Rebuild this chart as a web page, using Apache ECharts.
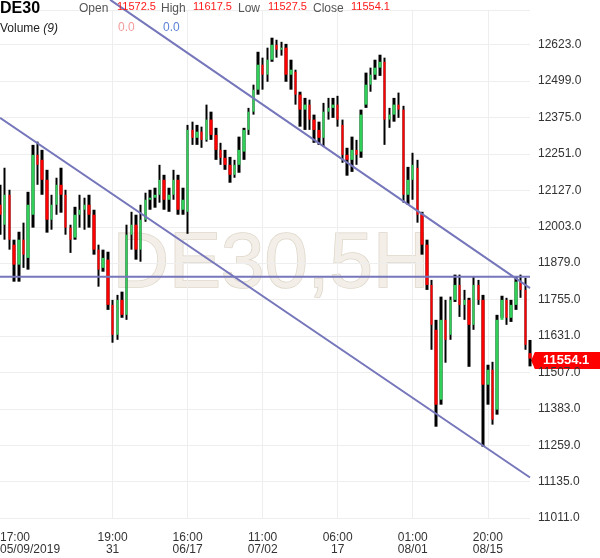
<!DOCTYPE html>
<html><head><meta charset="utf-8">
<script src="https://cdn.jsdelivr.net/npm/echarts@6/dist/echarts.min.js"></script>
<style>html,body{margin:0;padding:0;background:#fff}#c{width:600px;height:558px}</style>
</head><body><div id="c"></div>
<script>
// ---- data (5H candles, aggregated) ----
const opens = [12078,12010,12112,11942,11874,11959,11897,12044,12248,12231,
12163,12027,12078,12146,12112,12000,11966,12044,12061,12078,
12044,11925,11863,11891,11737,11635,11754,11703,11976,12010,
11925,12027,12095,12102,12112,12163,12095,12112,12163,12061,
12054,12333,12306,12327,12299,12368,12316,12265,12238,12214,
12180,12214,12259,12333,12395,12470,12555,12521,12572,12623,
12606,12613,12521,12531,12453,12402,12419,12368,12333,12306,
12395,12408,12419,12350,12248,12231,12265,12259,12419,12487,
12521,12545,12565,12368,12385,12419,12402,12112,12163,12204,
12044,11942,11805,11652,11414,11686,11635,11754,11805,11737,
11754,11669,11805,11754,11465,11516,11380,11686,11754,11693,
11737,11816,11788,11572.5];
const closes = [12044,12112,11959,11874,11959,11908,12078,12248,12214,12163,
12027,12078,12146,12112,12000,11959,12044,12061,12078,12044,
11925,11857,11897,11737,11635,11754,11703,11976,12010,11925,
12027,12095,12102,12112,12163,12095,12112,12163,12061,12095,
12333,12306,12327,12299,12368,12316,12265,12238,12214,12180,
12214,12265,12333,12395,12470,12555,12521,12572,12623,12606,
12613,12521,12538,12453,12402,12419,12368,12333,12306,12395,
12408,12419,12368,12248,12231,12265,12248,12385,12487,12521,
12545,12565,12368,12385,12419,12402,12112,12163,12214,12044,
11942,11805,11669,11397,11686,11618,11754,11805,11737,11754,
11669,11805,11754,11465,11516,11346,11686,11754,11693,11737,
11816,11788,11601,11554.1];
const highs = [12146,12204,12129,11959,11986,12017,12122,12282,12293,12265,
12197,12112,12170,12204,12129,12010,12071,12112,12102,12112,
12061,11942,11925,11918,11754,11771,11782,12010,12054,12044,
12078,12119,12129,12136,12214,12180,12136,12197,12180,12136,
12350,12361,12350,12344,12419,12395,12340,12289,12265,12241,
12231,12310,12340,12408,12487,12599,12579,12613,12647,12640,
12633,12626,12572,12538,12463,12442,12436,12385,12361,12425,
12442,12442,12449,12368,12272,12310,12299,12402,12528,12545,
12572,12589,12579,12408,12442,12460,12415,12207,12255,12231,
12054,11959,11822,11686,11765,11754,11765,11840,11840,11788,
11761,11833,11822,11771,11533,11543,11703,11768,11761,11754,
11833,11840,11829,11617.5];
const lows = [11976,11959,11925,11816,11816,11863,11857,12000,12146,12112,
11983,11993,12044,12051,11976,11914,11959,12000,11993,12000,
11908,11799,11850,11720,11608,11618,11693,11686,11925,11891,
11884,12020,12061,12068,12085,12061,12054,12095,12044,12044,
11979,12282,12282,12272,12293,12299,12231,12214,12197,12153,
12170,12187,12231,12316,12385,12453,12470,12497,12565,12579,
12586,12497,12470,12419,12344,12333,12333,12289,12282,12276,
12368,12374,12344,12221,12177,12190,12214,12238,12408,12463,
12504,12517,12282,12340,12361,12374,12085,12078,12095,12017,
11908,11788,11584,11322,11397,11540,11618,11747,11696,11686,
11526,11652,11737,11254,11397,11329,11363,11693,11669,11679,
11720,11761,11584,11527.5];
// x tick labels (category index -> text)
const tickIndex = [0, 24, 40, 56, 72, 88, 104];
const tickText = ['17:00\n05/09/2019','19:00\n31','16:00\n06/17','11:00\n07/02','06:00\n17','01:00\n08/01','20:00\n08/15'];
// y axis ticks
const yMin = 11011, yStep = 124, yMax = 12740;
// trend lines: [categoryIndex, value]
const upperLine = [[23.5, 12776], [113, 11794]];
const lowerLine = [[0, 12374], [113, 11149]];
const levelLine = [[0, 11833], [113, 11833]];
// header
const header = {symbol:'DE30', open:'11572.5', high:'11617.5', low:'11527.5', close:'11554.1'};

// ---- build ----
const N = opens.length;
const categories = opens.map((_, i) => String(i));
const wickData = opens.map((_, i) => [lows[i], highs[i], lows[i], highs[i]]);
const bodyData = opens.map((o, i) => [o, closes[i], Math.min(o, closes[i]), Math.max(o, closes[i])]);
const GREEN = '#2fcf5a', RED = '#ff0000', LINE = '#7676bb';
const FONT = 'Arial, "Liberation Sans", sans-serif';

const chart = echarts.init(document.getElementById('c'), null, {renderer: 'canvas'});
const lineSeries = (d) => ({type: 'line', xAxisIndex: 1, yAxisIndex: 0, data: d, symbol: 'none', clip: false, silent: true,
  lineStyle: {color: LINE, width: 2}, z: 5, animation: false});

chart.setOption({
  animation: false,
  grid: {left: 0, right: 70, top: 10.4, bottom: 40, containLabel: false, outerBoundsMode: 'none'},
  xAxis: [{
    type: 'category', data: categories, boundaryGap: false,
    axisLine: {show: false}, axisTick: {show: false},
    axisLabel: {
      interval: (idx) => tickIndex.includes(idx),
      formatter: (v, idx) => { const k = tickIndex.indexOf(Number(v)); return k >= 0 ? tickText[k] : ''; },
      color: '#333', fontSize: 12, fontFamily: FONT, lineHeight: 12, margin: 14,
      alignMinLabel: 'left', showMinLabel: true
    },
    splitLine: {show: true, interval: (idx) => idx > 0 && tickIndex.includes(idx), lineStyle: {color: '#eeeeee', width: 1}}
  }, {
    type: 'value', min: 0, max: N - 1, show: false
  }],
  yAxis: [{
    type: 'value', position: 'right', min: yMin, max: yMax, interval: yStep, scale: true,
    axisLine: {show: false}, axisTick: {show: false},
    axisLabel: {
      color: '#333', fontSize: 12, fontFamily: FONT, margin: 8,
      formatter: (v) => (Math.abs(((v - yMin) / yStep) - Math.round((v - yMin) / yStep)) < 1e-6 ? v.toFixed(1) : '')
    },
    splitLine: {lineStyle: {color: '#eeeeee', width: 1}}
  }],
  series: [
    {type: 'candlestick', name: 'wick', data: wickData, barWidth: 3, z: 3,
      itemStyle: {color: '#000', color0: '#000', borderColor: '#000', borderColor0: '#000', borderWidth: 0}},
    {type: 'candlestick', name: 'body', data: bodyData, barWidth: 3, z: 4,
      itemStyle: {color: GREEN, color0: RED, borderColor: GREEN, borderColor0: RED, borderWidth: 0}},
    lineSeries(upperLine), lineSeries(lowerLine), lineSeries(levelLine)
  ]
});

// price tag and header/watermark graphics
const lastClose = closes[N - 1];
const py = chart.convertToPixel({yAxisIndex: 0}, lastClose);
const px = chart.convertToPixel({xAxisIndex: 1}, N - 1);
const t = (x, y, text, fill, extra) => Object.assign({type: 'text', x: x, y: y, z: 20,
  style: Object.assign({text: text, fill: fill, font: '12px ' + FONT}, (extra || {}))});
chart.setOption({
  graphic: [
    {type: 'text', left: 112, top: 226, z: -10, silent: true,
      style: {text: 'DE30,5H', font: '78px ' + FONT, fill: '#f3efe8', stroke: '#ddd5c8', lineWidth: 1.5}},
    t(0, 1, header.symbol, '#000', {font: 'bold 16px ' + FONT}),
    t(79, 3, 'Open', '#555', {font: '12px ' + FONT}),
    t(117, 1, header.open, '#ff1a1a', {font: '11px ' + FONT}),
    t(161, 3, 'High', '#555', {font: '12px ' + FONT}),
    t(193, 1, header.high, '#ff1a1a', {font: '11px ' + FONT}),
    t(238, 3, 'Low', '#555', {font: '12px ' + FONT}),
    t(268, 1, header.low, '#ff1a1a', {font: '11px ' + FONT}),
    t(313, 3, 'Close', '#555', {font: '12px ' + FONT}),
    t(351, 1, header.close, '#ff1a1a', {font: '11px ' + FONT}),
    {type: 'text', x: 0, y: 23, z: 20, style: {rich: {a: {font: '12px ' + FONT, fill: '#222'}, b: {font: 'italic 12px ' + FONT, fill: '#222'}},
      text: '{a|Volume }{b|(9)}'}},
    t(118, 22, '0.0', '#f49a9a', {font: '12px ' + FONT}),
    t(163, 22, '0.0', '#5b82d6', {font: '12px ' + FONT}),
    {type: 'group', x: px + 1, y: py + 2, z: 30, children: [
      {type: 'polygon', shape: {points: [[0, 0], [4, -8.5], [8, -8.5], [8, 8.5], [4, 8.5]]}, style: {fill: '#ff0000'}},
      {type: 'rect', shape: {x: 3, y: -8.5, width: 80, height: 17, r: 3}, style: {fill: '#ff0000'}},
      {type: 'text', x: 12, y: 0, style: {text: lastClose.toFixed(1), fill: '#fff', font: 'bold 13px ' + FONT, verticalAlign: 'middle'}}
    ]}
  ]
});
</script></body></html>
